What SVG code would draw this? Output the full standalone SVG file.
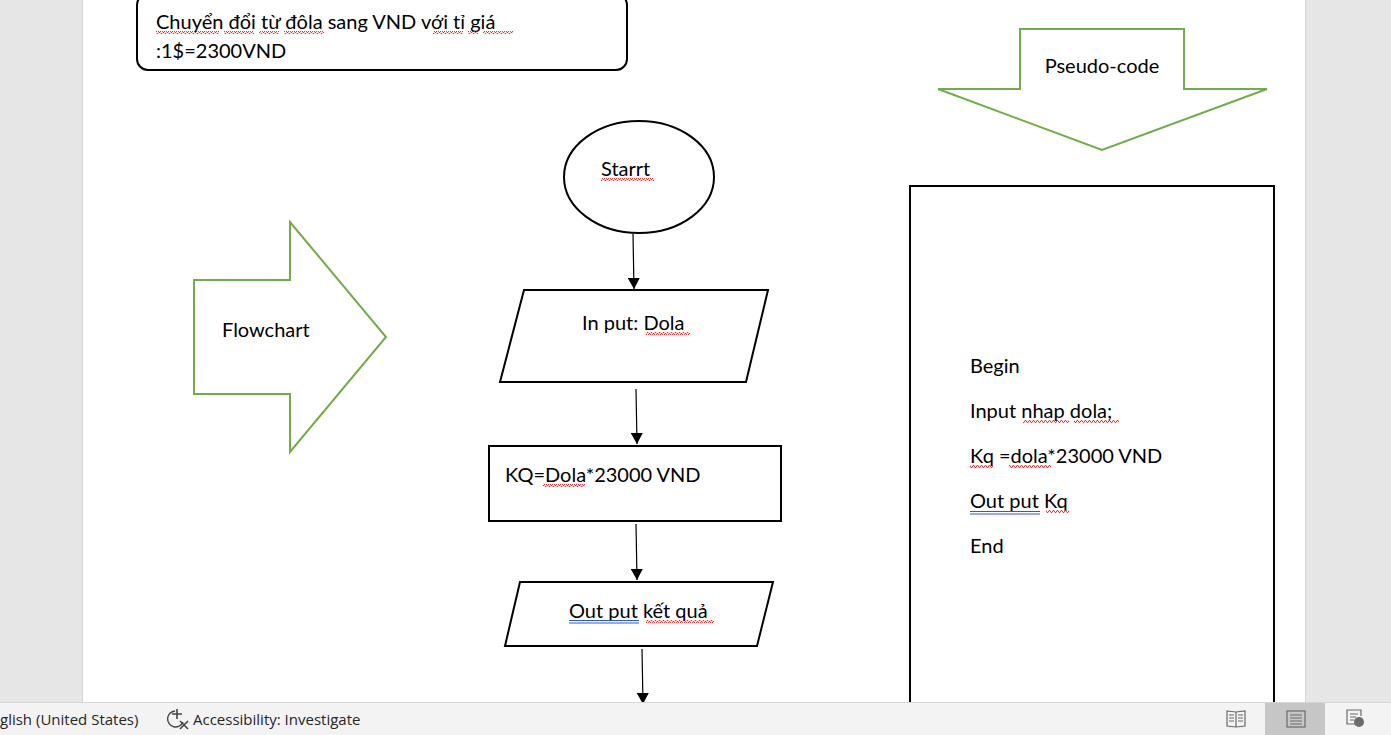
<svg xmlns="http://www.w3.org/2000/svg" width="1391" height="735" viewBox="0 0 1391 735">
<style>
.t{font-family:"Lato","Open Sans",sans-serif;font-size:20px;fill:#000}
.sb{font-family:"Open Sans","Noto Sans",sans-serif;font-size:15px;fill:#262626}
.blk{fill:#fff;stroke:#000;stroke-width:2}
.grn{fill:#fff;stroke:#70ad47;stroke-width:2}
.con{stroke:#000;stroke-width:1.2;fill:none}
.ico{fill:none;stroke:#6b6b6b;stroke-width:1.2}
</style>
<defs>
<marker id="ah" markerWidth="12" markerHeight="12" refX="11" refY="6" orient="auto" markerUnits="userSpaceOnUse" viewBox="0 0 12 12">
<path d="M0,0 L11,6 L0,12 Z" fill="#000"/>
</marker>
<pattern id="wav" width="4" height="3" patternUnits="userSpaceOnUse">
<path d="M0,2.5 L1,0.5 L2,0.5 L3,2.5 L4,2.5" fill="none" stroke="#e02020" stroke-width="0.9"/>
</pattern>
</defs>
<rect width="1391" height="735" fill="#e6e6e6"/>
<rect x="82" y="0" width="1223" height="702" fill="#fff"/>
<line x1="82.5" y1="0" x2="82.5" y2="702" stroke="#d4d4d4"/>
<line x1="1305.5" y1="0" x2="1305.5" y2="702" stroke="#d4d4d4"/>

<g id="title">
<rect x="137" y="-6" width="490" height="76" rx="11" class="blk"/>
<text class="t" x="156" y="29">Chuyển đổi từ đôla sang VND với tỉ giá</text>
<text class="t" x="156" y="58">:1$=2300VND</text>
<rect x="156" y="31" width="63" height="3" fill="url(#wav)"/>
<rect x="224" y="31" width="30" height="3" fill="url(#wav)"/>
<rect x="259" y="31" width="20" height="3" fill="url(#wav)"/>
<rect x="284" y="31" width="40" height="3" fill="url(#wav)"/>
<rect x="433" y="31" width="30" height="3" fill="url(#wav)"/>
<rect x="468" y="31" width="10" height="3" fill="url(#wav)"/>
<rect x="483" y="31" width="30" height="3" fill="url(#wav)"/>
</g>

<g id="pseudo-arrow">
<polygon class="grn" points="1020,29 1184,29 1184,89 1267,89 1102,150 938,89 1020,89"/>
<text class="t" x="1102" y="73" text-anchor="middle">Pseudo-code</text>
</g>

<g id="flowchart-arrow">
<polygon class="grn" points="194,280 290,280 290,222 386,337 290,452 290,394 194,394"/>
<text class="t" x="222" y="337">Flowchart</text>
</g>

<g id="pseudo-box">
<rect x="910" y="186" width="364" height="530" class="blk"/>
<text class="t" x="970" y="373">Begin</text>
<text class="t" x="970" y="418">Input nhap dola;</text>
<text class="t" x="970" y="463">Kq =dola*23000 VND</text>
<text class="t" x="970" y="508">Out put Kq</text>
<text class="t" x="970" y="553">End</text>
<rect x="1023" y="420" width="46" height="3" fill="url(#wav)"/>
<rect x="1074" y="420" width="45" height="3" fill="url(#wav)"/>
<rect x="970" y="465" width="23" height="3" fill="url(#wav)"/>
<rect x="1009" y="465" width="42" height="3" fill="url(#wav)"/>
<rect x="1046" y="510" width="23" height="3" fill="url(#wav)"/>
<line x1="970" y1="511.5" x2="1040" y2="511.5" stroke="#2a5bd7" stroke-width="1"/>
<line x1="970" y1="514" x2="1040" y2="514" stroke="#2a5bd7" stroke-width="1"/>
</g>

<g id="start">
<ellipse cx="639" cy="177" rx="75" ry="56" class="blk"/>
<text class="t" x="601" y="176">Starrt</text>
<rect x="601" y="178" width="53" height="3" fill="url(#wav)"/>
</g>

<g id="input">
<polygon class="blk" points="524,290 768,290 746,382 500,382"/>
<text class="t" x="582" y="330">In put: Dola</text>
<rect x="646" y="332" width="44" height="3" fill="url(#wav)"/>
</g>

<g id="process">
<rect x="489" y="446" width="292" height="75" class="blk"/>
<text class="t" x="505" y="482">KQ=Dola*23000 VND</text>
<rect x="543" y="484" width="42" height="3" fill="url(#wav)"/>
</g>

<g id="output">
<polygon class="blk" points="520,582 773,582 757,646 505,646"/>
<text class="t" x="569" y="618">Out put kết quả</text>
<rect x="646" y="620" width="68" height="3" fill="url(#wav)"/>
<line x1="569" y1="620.5" x2="639" y2="620.5" stroke="#2a5bd7" stroke-width="1"/>
<line x1="569" y1="623" x2="639" y2="623" stroke="#2a5bd7" stroke-width="1"/>
</g>

<g id="connectors">
<line class="con" x1="633" y1="234" x2="634" y2="289" marker-end="url(#ah)"/>
<line class="con" x1="636" y1="389" x2="637" y2="444" marker-end="url(#ah)"/>
<line class="con" x1="636" y1="524" x2="637" y2="580" marker-end="url(#ah)"/>
<line class="con" x1="642" y1="649" x2="643" y2="704" marker-end="url(#ah)"/>
</g>

<g id="statusbar">
<rect x="0" y="702" width="1391" height="33" fill="#f3f3f3"/>
<line x1="0" y1="702.5" x2="1391" y2="702.5" stroke="#d6d6d6"/>
<rect x="1265" y="703" width="60" height="32" fill="#c6c6c6"/>
<text class="sb" x="0" y="725">glish (United States)</text>
<text class="sb" x="193" y="725">Accessibility: Investigate</text>
<g class="ico">
<path d="M175,711 A8,8 0 1 0 183,722" stroke="#444" stroke-width="1.4"/>
<path d="M177,709 L177,719 M172,714 L182,714 M180,721 L188,729 M188,721 L180,729" stroke="#444" stroke-width="1.6"/>
</g>
<g class="ico">
<path d="M1227,711 L1236,712 L1245,711 L1245,726 L1236,727 L1227,726 Z M1236,712 L1236,727"/>
<path d="M1229,715 h5 M1229,718 h5 M1229,721 h5 M1238,715 h5 M1238,718 h5 M1238,721 h5"/>
</g>
<g class="ico">
<rect x="1287" y="711" width="18" height="16"/>
<path d="M1290,715 h12 M1290,718 h12 M1290,721 h12 M1290,724 h12"/>
</g>
<g class="ico">
<path d="M1356,724 L1347,724 L1347,710 L1361,710 L1361,716"/>
<path d="M1350,714 h8 M1350,717 h6 M1350,720 h4"/>
<circle cx="1359" cy="722" r="5" fill="#6b6b6b" stroke="none"/>
</g>
</g>
</svg>
